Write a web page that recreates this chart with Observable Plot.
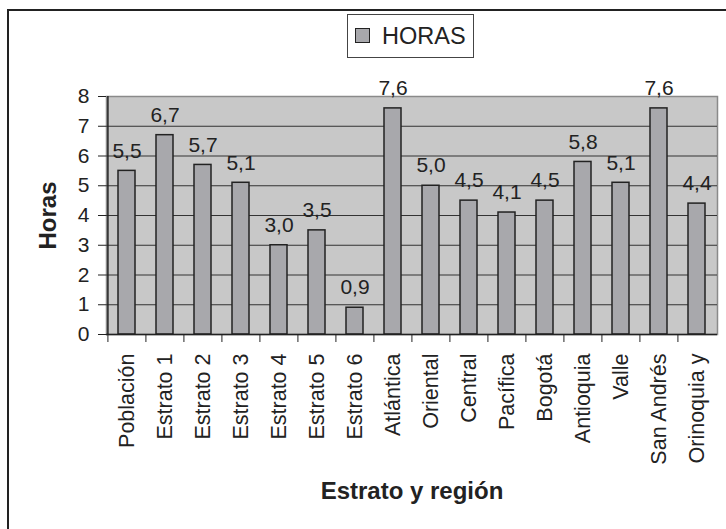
<!DOCTYPE html>
<html><head><meta charset="utf-8">
<script src="https://cdn.jsdelivr.net/npm/d3@7"></script>
<script src="https://cdn.jsdelivr.net/npm/@observablehq/plot@0.6"></script>
<style>
body{margin:0;background:#fff;overflow:hidden;font-family:"Liberation Sans",Arial,sans-serif;}
#wrap{position:relative;width:726px;height:529px;overflow:hidden;}
#frame{position:absolute;left:7px;top:9px;width:800px;height:600px;border:2px solid #222;}
#legend{position:absolute;left:347px;top:14px;width:127px;height:44px;border:1px solid #444;box-sizing:border-box;background:#fff;}
#legend .sw{position:absolute;left:7px;top:13px;width:15px;height:15px;box-sizing:border-box;border:1.5px solid #222;background:#a8a8ac;}
#legend .lb{position:absolute;left:34px;top:0;line-height:42px;font-size:23.5px;color:#222;}
#chart{position:absolute;left:0;top:0;}
</style>
</head><body>
<div id="wrap">
  <div id="frame"></div>
  <div id="chart"></div>
  <div id="legend"><div class="sw"></div><div class="lb">HORAS</div></div>
</div>
<script>
const categories = ["Población","Estrato 1","Estrato 2","Estrato 3","Estrato 4","Estrato 5","Estrato 6","Atlántica","Oriental","Central","Pacífica","Bogotá","Antioquia","Valle","San Andrés","Orinoquia y"];
const horas = [5.5,6.7,5.7,5.1,3.0,3.5,0.9,7.6,5.0,4.5,4.1,4.5,5.8,5.1,7.6,4.4];
const yTicks = [0,1,2,3,4,5,6,7,8];
const gridValues = [1,2,3,4,5,6,7];
const yTitle = "Horas";
const xTitle = "Estrato y región";

const data = categories.map((c, i) => ({c, v: horas[i]}));
const fmt = d => d.toFixed(1).replace(".", ",");
const W = 726, H = 529, mL = 106, mR = 9, mT = 96, mB = 195;
const step = (W - mL - mR) / categories.length;

const chart = Plot.plot({
  width: W, height: H,
  marginLeft: mL, marginRight: mR, marginTop: mT, marginBottom: mB,
  style: {fontFamily: "Liberation Sans, Arial, sans-serif", fontSize: "21px", color: "#222", background: "transparent"},
  x: {domain: categories, paddingInner: 0.555, paddingOuter: 0.2775, align: 0.5},
  y: {domain: [0, 8]},
  marks: [
    Plot.frame({fill: "#c8c8c8", stroke: "#8a8a8a", strokeWidth: 1.5}),
    Plot.ruleY(gridValues, {stroke: "#333", strokeWidth: 1}),
    Plot.barY(data, {x: "c", y: "v", fill: "#a8a8ac", stroke: "#222", strokeWidth: 1.5}),
    Plot.text(data, {x: "c", y: "v", text: d => fmt(d.v), dy: -20, fontSize: 21, fill: "#222"}),
    Plot.ruleY([0], {stroke: "#222", strokeWidth: 1.5}),
    Plot.ruleX([categories[0]], {x: d => d, dx: -step / 2, y1: 0, y2: 8, stroke: "#222", strokeWidth: 1.5}),
    Plot.axisY({ticks: yTicks, tickSize: 8, tickPadding: 9, fontSize: 21, label: null, stroke: "#222"}),
    Plot.axisX({tickSize: 8, tickFormat: () => "", dx: -step / 2, label: null, stroke: "#222"}),
    Plot.axisX({tickSize: 0, tickRotate: -90, tickPadding: 19, fontSize: 21.5, label: null}),
    Plot.text([yTitle], {frameAnchor: "left", textAnchor: "middle", lineAnchor: "middle", dx: -58, rotate: -90, fontWeight: "bold", fontSize: 24, fill: "#222"}),
    Plot.text([xTitle], {frameAnchor: "bottom", textAnchor: "middle", lineAnchor: "middle", dy: 157, fontWeight: "bold", fontSize: 24, fill: "#222"})
  ]
});
document.getElementById("chart").appendChild(chart);
</script>
</body></html>
